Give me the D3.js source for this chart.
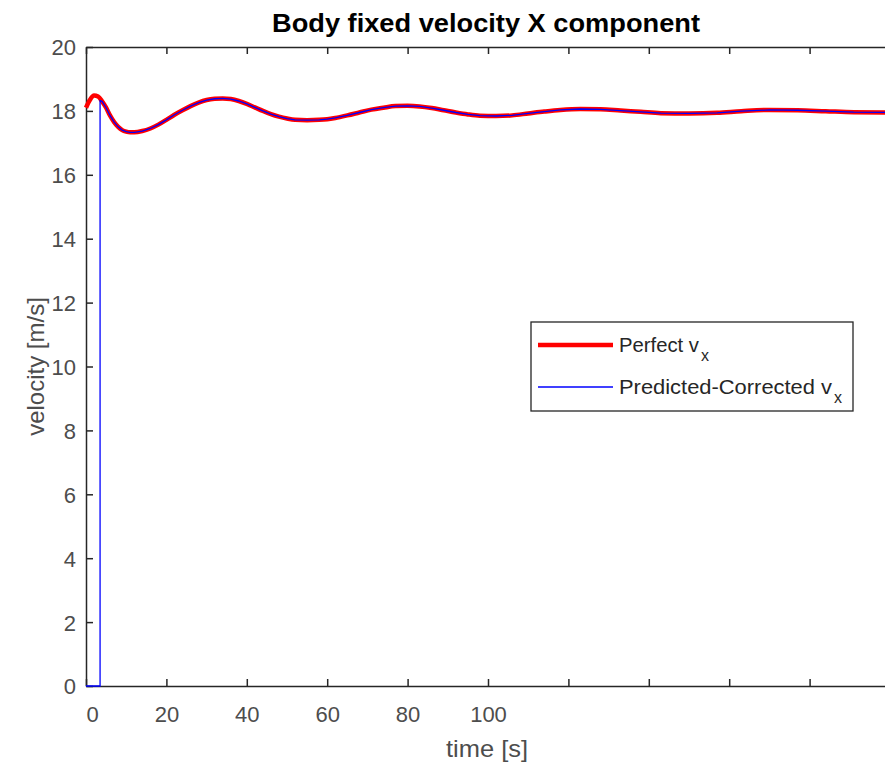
<!DOCTYPE html>
<html>
<head>
<meta charset="utf-8">
<script src="https://cdnjs.cloudflare.com/ajax/libs/d3/7.8.5/d3.min.js"></script>
<style>
  body { margin: 0; background: #fff; }
  svg { display: block; font-family: "Liberation Sans", Arial, sans-serif; }
</style>
</head>
<body>
<svg width="885" height="767"></svg>
<script>
// data
var time = [0, 1, 2, 3, 4, 5, 6, 7, 8, 9, 10, 11, 12, 14, 16, 18, 20, 22, 24, 26, 28, 30, 32, 34, 36, 38, 40,
            42, 44, 46, 48, 50, 52, 55, 58, 60, 62, 65, 68, 71, 74, 77, 80, 83, 86, 89, 92, 95, 98, 102,
            106, 110, 114, 118, 123, 128, 133, 138, 143, 150, 157, 163, 170, 177, 184, 191, 200];
var perfectVx = [18.10, 18.35, 18.48, 18.45, 18.30, 18.10, 17.85, 17.65, 17.50, 17.40, 17.35, 17.33, 17.33,
                 17.37, 17.45, 17.57, 17.72, 17.88, 18.02, 18.15, 18.26, 18.34, 18.38, 18.39, 18.37, 18.31,
                 18.22, 18.11, 18.00, 17.90, 17.82, 17.76, 17.72, 17.71, 17.72, 17.74, 17.78, 17.86, 17.95,
                 18.04, 18.10, 18.15, 18.16, 18.14, 18.09, 18.02, 17.95, 17.89, 17.85, 17.84, 17.86, 17.92,
                 17.98, 18.03, 18.06, 18.05, 18.01, 17.97, 17.93, 17.92, 17.94, 17.99, 18.03, 18.02, 17.99,
                 17.96, 17.95];
// predicted-corrected estimate: zero until the filter starts, then tracks the true value
var predStartTime = [0, 3.5, 3.5];
var predStartVx = [0, 0, 18.32];

var xTicks = d3.range(0, 201, 20);
var xTickLabels = ["0", "20", "40", "60", "80", "100"];
var yTicks = d3.range(0, 21, 2);

var svg = d3.select("svg"),
    margin = {top: 47, left: 86, bottom: 81},
    width = 804,
    height = +svg.attr("height") - margin.top - margin.bottom;

var perfect = time.map(function(t, i) { return {t: t, v: perfectVx[i]}; });
var predicted = predStartTime.map(function(t, i) { return {t: t, v: predStartVx[i]}; })
  .concat(perfect.filter(function(d) { return d.t >= 4; }));

var x = d3.scaleLinear().domain([0, 200]).range([0, width]);
var y = d3.scaleLinear().domain([0, 20]).range([height, 0]);

var g = svg.append("g")
  .attr("transform", "translate(" + margin.left + "," + margin.top + ")");

// axes (ticks pointing inwards, like matlab)
var axisColor = "#262626", labelColor = "#4d4d4d";

var xBottom = d3.axisBottom(x).tickValues(xTicks).tickSizeInner(-7).tickSizeOuter(0)
  .tickFormat(function(d, i) { return xTickLabels[i] || ""; });
var xTop = d3.axisTop(x).tickValues(xTicks).tickSizeInner(-7).tickSizeOuter(0).tickFormat("");
var yLeft = d3.axisLeft(y).tickValues(yTicks).tickSizeInner(-7).tickSizeOuter(0);

var gxb = g.append("g").attr("transform", "translate(0," + height + ")").call(xBottom);
var gxt = g.append("g").call(xTop);
var gyl = g.append("g").call(yLeft);

[gxb, gxt, gyl].forEach(function(a) {
  a.select(".domain").attr("stroke", axisColor).attr("stroke-width", 1.5);
  a.selectAll(".tick line").attr("stroke", axisColor).attr("stroke-width", 1.5);
  a.selectAll(".tick text").attr("fill", labelColor).style("font-size", "22px");
});
gxb.selectAll(".tick text").attr("dy", "0").attr("y", 36);
gxb.selectAll(".tick").filter(function(d) { return d === 0; }).select("text").attr("dx", 6);
gyl.selectAll(".tick text").attr("x", -10).attr("dy", "0.36em");

// lines
var line = d3.line().x(function(d) { return x(d.t); }).y(function(d) { return y(d.v); })
  .curve(d3.curveMonotoneX);

g.append("path").datum(perfect)
  .attr("fill", "none").attr("stroke", "#ff0000").attr("stroke-width", 4.5)
  .attr("d", line);
g.append("path").datum(predicted)
  .attr("fill", "none").attr("stroke", "#0000ff").attr("stroke-width", 1.3)
  .attr("d", line.curve(d3.curveLinear));

// title and axis labels
svg.append("text").attr("x", margin.left + width / 2 - 2).attr("y", 32)
  .attr("text-anchor", "middle").style("font-weight", "bold").style("font-size", "26px")
  .attr("textLength", 428).attr("lengthAdjust", "spacingAndGlyphs")
  .attr("fill", "#000").text("Body fixed velocity X component");
svg.append("text").attr("x", margin.left + width / 2 - 1).attr("y", 757)
  .attr("text-anchor", "middle").style("font-size", "24px").attr("fill", labelColor)
  .attr("textLength", 82).attr("lengthAdjust", "spacingAndGlyphs")
  .text("time [s]");
svg.append("text").attr("transform", "translate(44," + (margin.top + height / 2) + ") rotate(-90)")
  .attr("text-anchor", "middle").style("font-size", "24px").attr("fill", labelColor)
  .text("velocity [m/s]");

// legend
var legend = svg.append("g").attr("transform", "translate(531,322)");
legend.append("rect").attr("width", 322).attr("height", 89)
  .attr("fill", "#fff").attr("stroke", axisColor).attr("stroke-width", 1.3);

var items = [
  {label: "Perfect v", color: "#ff0000", w: 4.5, y: 23, len: 80},
  {label: "Predicted-Corrected v", color: "#0000ff", w: 1.3, y: 65, len: 213}
];
var it = legend.selectAll(".item").data(items).enter().append("g")
  .attr("transform", function(d) { return "translate(0," + d.y + ")"; });
it.append("line").attr("x1", 7).attr("x2", 82)
  .attr("stroke", function(d) { return d.color; }).attr("stroke-width", function(d) { return d.w; });
it.append("text").attr("x", 88).attr("y", 7).style("font-size", "20px").attr("fill", "#262626")
  .attr("textLength", function(d) { return d.len; }).attr("lengthAdjust", "spacingAndGlyphs")
  .text(function(d) { return d.label; });
it.append("text").attr("x", function(d) { return 90 + d.len; }).attr("y", 16)
  .style("font-size", "16px").attr("fill", "#262626").text("x");
</script>
</body>
</html>
